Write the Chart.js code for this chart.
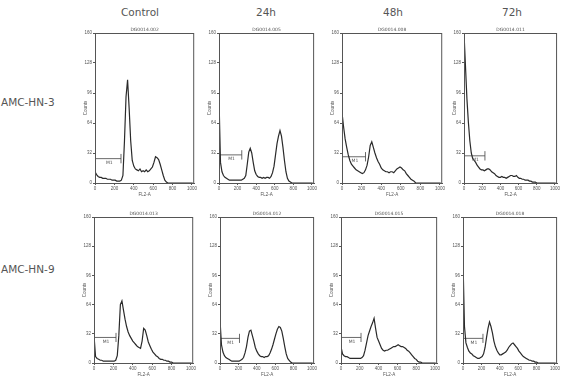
<!DOCTYPE html>
<html>
<head>
<meta charset="utf-8">
<script src="https://cdn.jsdelivr.net/npm/chart.js@4.4.1/dist/chart.umd.min.js"></script>
<style>
  body { margin: 0; background: #fff; }
  #app { position: relative; width: 563px; height: 378px; overflow: hidden; font-family: "DejaVu Sans", sans-serif; }
  .box { position: absolute; }
  .head { position: absolute; top: 6px; font-size: 10.5px; color: #555; text-align: center; width: 80px; }
  .row { position: absolute; left: 1px; font-size: 10.5px; color: #555; }
</style>
</head>
<body>
<div id="app"></div>
<script>
// channel bins (FL2-A), 16 channels each
const channels = [0,16,32,48,64,80,96,112,128,144,160,176,192,208,224,240,256,272,288,304,320,336,352,368,384,400,416,432,448,464,480,496,512,528,544,560,576,592,608,624,640,656,672,688,704,720,736,752,768,784,800,816,832,848,864,880,896,912,928,944,960,976,992,1008];

const timepoints = ['Control', '24h', '48h', '72h'];
const cellLines = ['AMC-HN-3', 'AMC-HN-9'];
const fileNames = ['DG0014.002', 'DG0014.005', 'DG0014.008', 'DG0014.011', 'DG0014.013', 'DG0014.012', 'DG0014.015', 'DG0014.018'];

const xTicks = [0, 200, 400, 600, 800, 1000];
const yTicks = [0, 32, 64, 96, 128, 160];

// counts per bin
const hn3Control = [12,9,7,6,6,5,5,5,4,4,4,3,3,3,2,2,2,3,8,45,92,110,80,45,24,18,15,14,13,15,12,13,12,14,12,13,15,17,22,28,27,25,20,14,8,3,1,0,0,0,0,0,0,0,0,0,0,0,0,0,0,0,0,0];
const hn3h24 = [90,22,12,8,6,5,4,3,3,3,3,3,3,3,3,3,4,5,8,20,33,37,32,22,13,9,7,6,6,5,6,5,6,6,5,7,11,18,30,42,50,56,50,38,24,12,5,2,1,0,0,0,0,0,0,0,0,0,0,0,0,0,0,0];
const hn3h48 = [75,60,47,38,30,24,20,18,16,14,13,12,11,10,11,14,19,28,40,44,38,32,27,23,20,16,14,13,12,12,11,12,12,11,13,15,16,17,16,14,13,10,8,6,4,3,2,0,0,0,0,0,0,0,0,0,0,0,0,0,0,0,0,0];
const hn3h72 = [160,125,90,65,45,32,26,24,22,19,17,15,14,14,13,14,15,15,14,12,11,10,8,7,6,6,7,6,6,5,6,7,8,8,7,7,8,6,5,5,4,4,3,3,3,2,2,1,1,1,0,0,0,0,0,0,0,0,0,0,0,0,0,0];
const hn9Control = [30,7,5,4,3,3,2,2,2,2,2,2,2,2,3,8,30,64,68,58,48,40,34,30,27,24,22,20,18,17,16,24,38,36,30,23,19,15,12,10,8,7,5,4,4,3,3,2,2,1,1,0,0,0,0,0,0,0,0,0,0,0,0,0];
const hn9h24 = [47,20,12,8,6,5,4,3,2,2,2,2,2,2,3,4,6,11,18,28,35,36,30,24,17,13,10,8,7,7,6,7,7,8,11,15,20,26,32,37,40,39,35,27,18,10,5,3,1,0,0,0,0,0,0,0,0,0,0,0,0,0,0,0];
const hn9h48 = [18,10,8,7,7,6,5,5,5,5,5,5,5,5,6,8,14,22,30,35,40,44,49,38,28,24,20,16,14,13,14,14,15,16,17,18,18,19,20,19,18,18,17,16,14,13,11,9,7,5,4,2,1,1,0,0,0,0,0,0,0,0,0,0];
const hn9h72 = [112,40,22,17,13,11,10,8,7,6,5,5,6,7,10,17,28,38,45,40,33,24,18,14,11,9,9,10,11,12,14,17,19,21,22,20,18,16,13,11,9,7,6,5,4,3,3,2,2,1,1,0,0,0,0,0,0,0,0,0,0,0,0,0];

// M1 gate marker: level (counts) and right end (channel)
const markerLevel = [26, 30, 28, 29, 28, 27, 28, 27];
const markerEnd = [268, 245, 240, 230, 227, 212, 213, 217];

const series = [hn3Control, hn3h24, hn3h48, hn3h72, hn9Control, hn9h24, hn9h48, hn9h72];

// plot area boxes
const colLeft = [[95, 219, 342, 464], [94, 220, 341, 463]];
const colRight = [[197, 317, 445, 560], [196, 317, 440, 560]];
const rowTop = [33, 217];
const plotH = [150, 146];

const app = document.getElementById('app');
const headX = [140, 266, 393, 512];
timepoints.forEach((t, i) => {
    const d = document.createElement('div');
    d.className = 'head';
    d.style.left = (headX[i] - 40) + 'px';
    d.textContent = t;
    app.appendChild(d);
});
const rowY = [96, 263];
cellLines.forEach((c, i) => {
    const d = document.createElement('div');
    d.className = 'row';
    d.style.top = rowY[i] + 'px';
    d.textContent = c;
    app.appendChild(d);
});

const panelPlugin = {
    id: 'panel',
    afterDraw(chart) {
        const ctx = chart.ctx;
        const a = chart.chartArea;
        const k = chart.options.plugins.panel;
        ctx.save();
        ctx.strokeStyle = '#555';
        ctx.lineWidth = 1;
        ctx.strokeRect(a.left + 0.5, a.top + 0.5, a.right - a.left - 1, a.bottom - a.top);
        ctx.fillStyle = '#555';
        ctx.font = '4.5px "DejaVu Sans"';
        ctx.textAlign = 'center';
        ctx.textBaseline = 'bottom';
        ctx.fillText(k.file, (a.left + a.right) / 2, a.top - 1);
        const xs = chart.scales.x, ys = chart.scales.y;
        ctx.textBaseline = 'top';
        ctx.fillText('M1', xs.getPixelForValue(k.mEnd * 0.55), ys.getPixelForValue(k.mLevel) + 2);
        ctx.restore();
    }
};

series.forEach((counts, p) => {
    const r = Math.floor(p / 4), c = p % 4;
    const left = colLeft[r][c], right = colRight[r][c];
    const yAxisW = 12, xAxisH = 14, topPad = 8;
    const wrap = document.createElement('div');
    wrap.className = 'box';
    wrap.style.left = (left - yAxisW) + 'px';
    wrap.style.top = (rowTop[r] - topPad) + 'px';
    const w = right - left + yAxisW + 1;
    const h = plotH[r] + topPad + xAxisH;
    wrap.style.width = w + 'px';
    wrap.style.height = h + 'px';
    const canvas = document.createElement('canvas');
    wrap.appendChild(canvas);
    app.appendChild(wrap);

    const m = markerLevel[p], e = markerEnd[p];
    new Chart(canvas, {
        type: 'line',
        data: {
            datasets: [{
                data: channels.map((ch, i) => ({ x: ch, y: counts[i] })),
                borderColor: '#2a2a2a',
                borderWidth: 1.2
            }, {
                data: [{ x: 0, y: m }, { x: e, y: m }],
                borderColor: '#444',
                borderWidth: 0.8
            }, {
                data: [{ x: e, y: m - 5 }, { x: e, y: m + 5 }],
                borderColor: '#444',
                borderWidth: 0.8
            }]
        },
        options: {
            responsive: true,
            maintainAspectRatio: false,
            animation: false,
            layout: { padding: { top: topPad, right: 1, left: 0, bottom: 0 } },
            elements: { point: { radius: 0 }, line: { tension: 0 } },
            plugins: {
                legend: { display: false },
                tooltip: { enabled: false },
                panel: { file: fileNames[p], mLevel: m, mEnd: e }
            },
            scales: {
                x: {
                    type: 'linear', min: 0, max: 1023,
                    afterBuildTicks: s => { s.ticks = xTicks.map(v => ({ value: v })); },
                    afterFit: s => { s.height = xAxisH; },
                    grid: { drawOnChartArea: false, tickLength: 2, color: '#555' },
                    border: { color: '#555' },
                    ticks: { font: { size: 4.5 }, color: '#555', padding: 1, maxRotation: 0, callback: v => String(v) },
                    title: { display: true, text: 'FL2-A', font: { size: 4.5 }, color: '#555', padding: 0 }
                },
                y: {
                    min: 0, max: 160,
                    afterBuildTicks: s => { s.ticks = yTicks.map(v => ({ value: v })); },
                    afterFit: s => { s.width = yAxisW; },
                    grid: { drawOnChartArea: false, tickLength: 2, color: '#555' },
                    border: { color: '#555' },
                    ticks: { font: { size: 4.5 }, color: '#555', padding: 1, callback: v => String(v) },
                    title: { display: true, text: 'Counts', font: { size: 4.5 }, color: '#555', padding: 0 }
                }
            }
        },
        plugins: [panelPlugin]
    });
});
</script>
</body>
</html>
